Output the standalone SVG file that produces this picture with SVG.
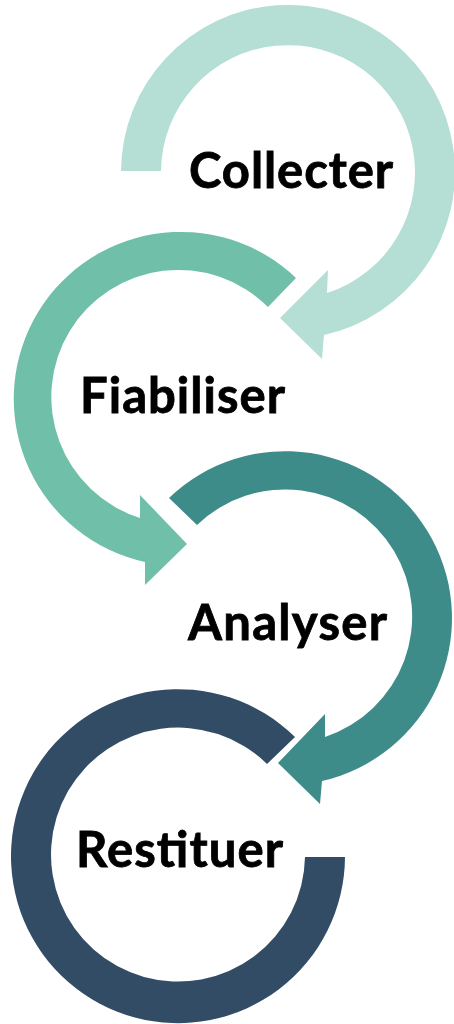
<svg xmlns="http://www.w3.org/2000/svg" width="454" height="1024" viewBox="0 0 454 1024">
<style>
.lbl{font-family:Lato,"Open Sans","Liberation Sans",sans-serif;font-weight:bold;font-size:49px;fill:#000;stroke:#000;stroke-width:0.8px}
</style>
<rect width="454" height="1024" fill="#fff"/>
<g id="connectors"/>
<g id="collecter">
<path fill="#b5dfd5" d="M121 171 A167 167 0 1 1 324 335 L322 359 L280 318 L328 270 L327 293 A127 127 0 1 0 161 171 Z"/>
<text class="lbl" x="189" y="188" textLength="204">Collecter</text>
</g>
<g id="fiabiliser">
<path fill="#70bfa9" d="M296 278 A167 167 0 1 0 145 562 L145 585 L187 544 L140 495 L140 518 A127 127 0 1 1 268 307 Z"/>
<text class="lbl" x="80" y="413" textLength="205">Fiabiliser</text>
</g>
<g id="analyser">
<path fill="#3e8c8a" d="M169 498 A167 167 0 1 1 322 781 L320 804 L278 763 L325 714 L325 737 A127 127 0 1 0 197 525 Z"/>
<text class="lbl" x="188" y="640" textLength="199">Analyser</text>
</g>
<g id="restituer">
<path fill="#324c66" d="M295 737 A167 167 0 1 0 345 857 L305 857 A127 127 0 1 1 267 764 Z"/>
<text class="lbl" x="76" y="867" textLength="207">Restituer</text>
</g>
</svg>
